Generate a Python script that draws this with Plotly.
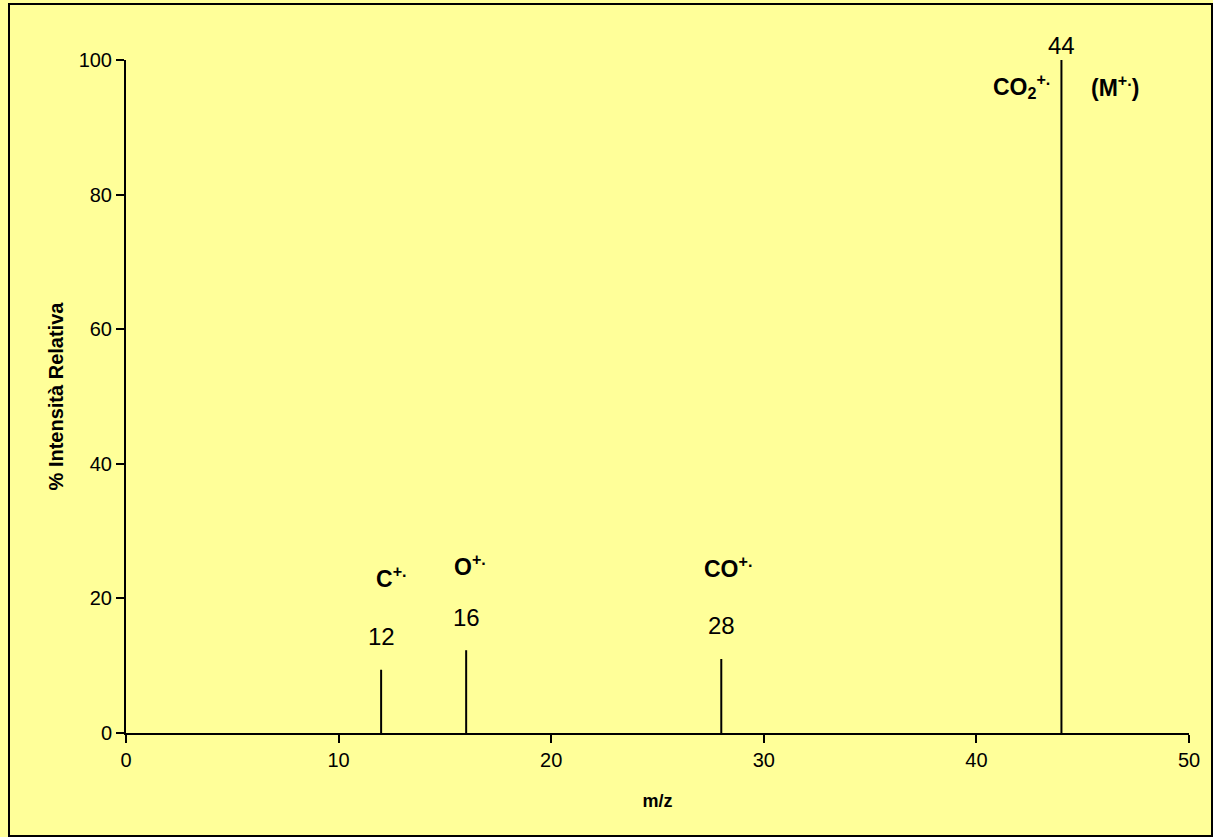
import plotly.graph_objects as go

# Data
mz = [12, 16, 28, 44]
intensity = [9.4, 12.3, 11.0, 100]
mz_labels = ["12", "16", "28", "44"]
mz_label_y = [14.3, 17.1, 15.9, 102.2]
ion_labels = ["C<sup>+.</sup>", "O<sup>+.</sup>", "CO<sup>+.</sup>", "CO<sub>2</sub><sup>+.</sup>", "(M<sup>+.</sup>)"]
ion_x = [12.5, 16.2, 28.3, 42.1, 46.5]
ion_y = [23.2, 25.0, 24.7, 96.2, 96.2]
x_ticks = [0, 10, 20, 30, 40, 50]
y_ticks = [0, 20, 40, 60, 80, 100]
y_max = 100

xs, ys = [], []
for m, v in zip(mz, intensity):
    xs += [m, m, None]
    ys += [0, v, None]

fig = go.Figure()
fig.add_trace(go.Scatter(x=xs, y=ys, mode="lines",
                         line=dict(color="black", width=2),
                         showlegend=False, hoverinfo="skip", cliponaxis=False))

font = "Liberation Sans, Arial, sans-serif"
for m, lab, ly in zip(mz, mz_labels, mz_label_y):
    fig.add_annotation(x=m, y=ly / y_max, yref="paper", text=lab, showarrow=False,
                       xanchor="center", yanchor="middle",
                       font=dict(family=font, size=24, color="black"))
for lab, lx, ly in zip(ion_labels, ion_x, ion_y):
    fig.add_annotation(x=lx, y=ly / y_max, yref="paper", text="<b>" + lab + "</b>",
                       showarrow=False, xanchor="center", yanchor="middle",
                       font=dict(family=font, size=23, color="black"))

W, H = 1213, 837
L, R, T, B = 126, 24, 60, 104
pw, ph = W - L - R, H - T - B
fig.add_shape(type="rect", xref="paper", yref="paper",
              x0=(9 - L) / pw, x1=(1212 - L) / pw,
              y0=(H - B - 836) / ph, y1=(H - B - 4) / ph,
              line=dict(color="black", width=2), layer="below")

fig.update_layout(
    width=W, height=H,
    margin=dict(l=L, r=R, t=T, b=B),
    paper_bgcolor="#FFFF99", plot_bgcolor="#FFFF99",
    font=dict(family=font, color="black"),
    xaxis=dict(range=[0, 50], tickvals=x_ticks, ticks="outside", ticklen=8,
               tickwidth=1.5, tickcolor="black", showgrid=False, zeroline=False,
               showline=True, linecolor="black", linewidth=2,
               tickfont=dict(size=20),
               title=dict(text="<b>m/z</b>", font=dict(size=18), standoff=24)),
    yaxis=dict(range=[0, y_max], tickvals=y_ticks, ticks="outside", ticklen=8,
               tickwidth=1.5, tickcolor="black", showgrid=False, zeroline=False,
               showline=True, linecolor="black", linewidth=2,
               tickfont=dict(size=20),
               title=dict(text="<b>% Intensità Relativa</b>", font=dict(size=20), standoff=10)),
)

fig.write_html("out.html", config={"displayModeBar": False},
               post_script="document.body.style.margin='0';document.body.style.background='white';")
